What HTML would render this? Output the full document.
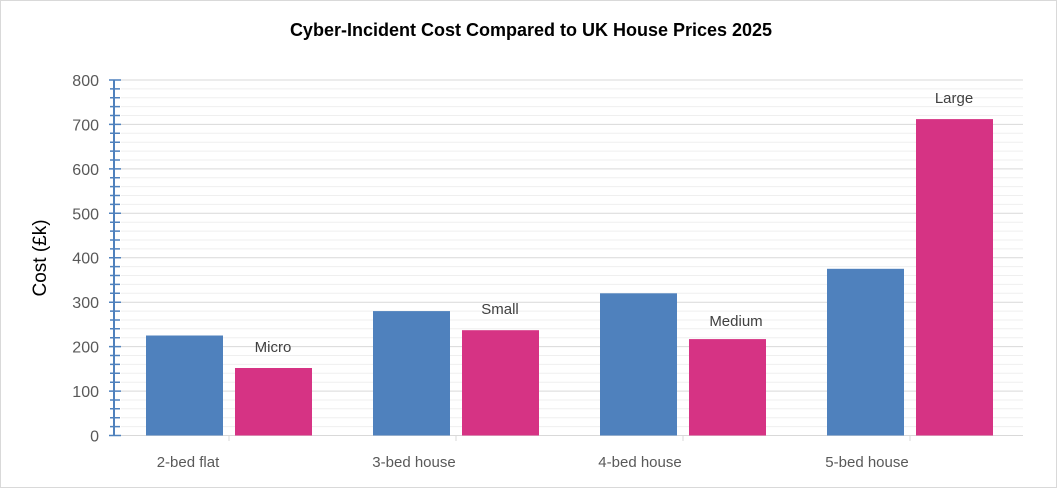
<!DOCTYPE html>
<html><head><style>
html,body{margin:0;padding:0;background:#fff;}
svg{display:block;font-family:"Liberation Sans",Arial,sans-serif;}
</style></head><body>
<svg width="1057" height="488" viewBox="0 0 1057 488">
<rect x="0.5" y="0.5" width="1056" height="487" fill="#fff" stroke="#d9d9d9"/>
<text x="531" y="36" text-anchor="middle" font-size="18" font-weight="bold" fill="#000">Cyber-Incident Cost Compared to UK House Prices 2025</text>
<path stroke="#efefef" stroke-width="1" fill="none" d="M121 426.6H1023M121 417.7H1023M121 408.8H1023M121 400H1023M121 382.2H1023M121 373.3H1023M121 364.4H1023M121 355.5H1023M121 337.7H1023M121 328.8H1023M121 320H1023M121 311.1H1023M121 293.3H1023M121 284.4H1023M121 275.5H1023M121 266.6H1023M121 248.9H1023M121 240H1023M121 231.1H1023M121 222.2H1023M121 204.4H1023M121 195.5H1023M121 186.6H1023M121 177.8H1023M121 160H1023M121 151.1H1023M121 142.2H1023M121 133.3H1023M121 115.5H1023M121 106.6H1023M121 97.8H1023M121 88.9H1023"/>
<path stroke="#d9d9d9" stroke-width="1" fill="none" d="M121 391.1H1023M121 346.6H1023M121 302.2H1023M121 257.7H1023M121 213.3H1023M121 168.9H1023M121 124.4H1023M121 80H1023M114 435.5H1023M229 435.5V441M456 435.5V441M683 435.5V441M910 435.5V441"/>
<line x1="114" x2="114" y1="79.5" y2="436" stroke="#4f81bd" stroke-width="2"/>
<path stroke="#4f81bd" stroke-width="1.5" fill="none" d="M109 435.5H121M110 426.6H120M110 417.7H120M110 408.8H120M110 400H120M109 391.1H121M110 382.2H120M110 373.3H120M110 364.4H120M110 355.5H120M109 346.6H121M110 337.7H120M110 328.8H120M110 320H120M110 311.1H120M109 302.2H121M110 293.3H120M110 284.4H120M110 275.5H120M110 266.6H120M109 257.7H121M110 248.9H120M110 240H120M110 231.1H120M110 222.2H120M109 213.3H121M110 204.4H120M110 195.5H120M110 186.6H120M110 177.8H120M109 168.9H121M110 160H120M110 151.1H120M110 142.2H120M110 133.3H120M109 124.4H121M110 115.5H120M110 106.6H120M110 97.8H120M110 88.9H120M109 80H121"/>
<g font-size="16" fill="#595959" text-anchor="end">
<text x="99" y="441.5">0</text><text x="99" y="397">100</text><text x="99" y="352.6">200</text><text x="99" y="308.2">300</text><text x="99" y="263.7">400</text><text x="99" y="219.3">500</text><text x="99" y="174.9">600</text><text x="99" y="130.4">700</text><text x="99" y="86">800</text>
</g>
<g fill="#4f81bd">
<rect x="146" y="335.5" width="77" height="100"/>
<rect x="373" y="311.1" width="77" height="124.4"/>
<rect x="600" y="293.3" width="77" height="142.2"/>
<rect x="827" y="268.8" width="77" height="166.7"/>
</g>
<g fill="#d63384">
<rect x="235" y="368" width="77" height="67.5"/>
<rect x="462" y="330.2" width="77" height="105.3"/>
<rect x="689" y="339.1" width="77" height="96.4"/>
<rect x="916" y="119.1" width="77" height="316.4"/>
</g>
<text transform="translate(46,258) rotate(-90)" text-anchor="middle" font-size="19" fill="#000">Cost (£k)</text>
<g font-size="15" fill="#595959" text-anchor="middle">
<text x="188" y="467">2-bed flat</text>
<text x="414" y="467">3-bed house</text>
<text x="640" y="467">4-bed house</text>
<text x="867" y="467">5-bed house</text>
</g>
<g font-size="15" fill="#404040" text-anchor="middle">
<text x="273" y="352">Micro</text>
<text x="500" y="314">Small</text>
<text x="736" y="326">Medium</text>
<text x="954" y="103">Large</text>
</g>
</svg>
</body></html>
